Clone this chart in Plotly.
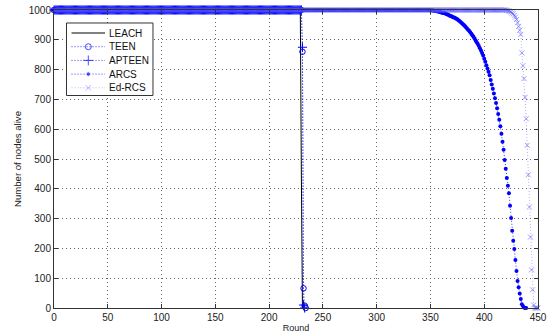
import plotly.graph_objects as go

# ---- data ----
series_names = ["LEACH", "TEEN", "APTEEN", "ARCS", "Ed-RCS"]

leach_rounds = [0, 229, 230, 231]
leach_alive = [1000, 1000, 443, 0]

teen_rounds = list(range(0, 235))
teen_alive = [1000] * 231 + [860, 66, 8, 0]

apteen_rounds = list(range(0, 234))
apteen_alive = [1000] * 231 + [875, 10, 0]

arcs_rounds = list(range(0, 441))
arcs_alive = [1000] * 350 + [
    999, 999, 998, 998, 997, 997, 996, 995, 994, 993,          # 351-360
    992, 991, 990, 989, 988, 986, 985, 983, 981, 980,          # 361-370
    978, 976, 975, 973, 971, 969, 966, 963, 960, 956,          # 371-380
    953, 950, 946, 942, 938, 934, 930, 925, 920, 915,          # 381-390
    910, 904, 898, 892, 886, 879, 872, 864, 856, 847,          # 391-400
    836, 826, 815, 804, 793, 781, 765, 750, 736, 720,          # 401-410
    704, 688, 670, 651, 632, 610, 585, 558, 531, 497,          # 411-420
    467, 436, 410, 385, 343, 302, 259, 226, 198, 161,          # 421-430
    124, 91, 70, 49, 30, 13, 7, 2, 0, 0,                       # 431-440
]

edrcs_rounds = list(range(0, 451))
edrcs_alive = [1000] * 421 + [
    999, 998, 997, 995, 993, 990, 987, 982, 976,               # 421-429
    968, 957, 945, 932, 918, 856, 813, 770, 707, 635,          # 430-439
    546, 447, 339, 238, 128, 61, 10, 0, 0, 0, 0,               # 440-450
]

x_ticks = [0, 50, 100, 150, 200, 250, 300, 350, 400, 450]
y_ticks = [0, 100, 200, 300, 400, 500, 600, 700, 800, 900, 1000]

FONT = "Liberation Sans, Arial, sans-serif"
BLUE = "#0000ff"
LIGHT = "rgba(90,90,255,0.6)"
DOT = "1px,2px"

styles = {
    "LEACH": dict(line=dict(color="black", width=1), marker=None, mode="lines"),
    "TEEN": dict(line=dict(color=BLUE, width=0.8, dash=DOT),
                 marker=dict(symbol="circle-open", size=5.5, color=BLUE, line=dict(width=1, color=BLUE)),
                 mode="lines+markers"),
    "APTEEN": dict(line=dict(color=BLUE, width=0.8, dash=DOT),
                   marker=dict(symbol="cross-thin", size=6.5, color=BLUE, line=dict(width=1, color=BLUE)),
                   mode="lines+markers"),
    "ARCS": dict(line=dict(color=BLUE, width=0.8, dash=DOT),
                 marker=dict(symbol="circle", size=4, color=BLUE),
                 mode="lines+markers"),
    "Ed-RCS": dict(line=dict(color=LIGHT, width=0.8, dash=DOT),
                   marker=dict(symbol="x-thin", size=5, color=LIGHT, line=dict(width=1, color=LIGHT)),
                   mode="lines+markers"),
}

data = {
    "LEACH": (leach_rounds, leach_alive),
    "TEEN": (teen_rounds, teen_alive),
    "APTEEN": (apteen_rounds, apteen_alive),
    "ARCS": (arcs_rounds, arcs_alive),
    "Ed-RCS": (edrcs_rounds, edrcs_alive),
}

fig = go.Figure()
for name in series_names:
    xs, ys = data[name]
    st = styles[name]
    kw = dict(x=xs, y=ys, name=name, mode=st["mode"], line=st["line"],
              cliponaxis=False, showlegend=False)
    if st["marker"] is not None:
        kw["marker"] = st["marker"]
    fig.add_trace(go.Scatter(**kw))

# ---- hand-built compact legend (like the MATLAB one) in an overlay axis ----
leg_x0, leg_x1 = 0.0258, 0.2045
leg_y0, leg_y1 = 0.7131, 0.9564
row_y = [0.9228, 0.8768, 0.8309, 0.7849, 0.7389]
samp_x = [0.0362, 0.0709, 0.1054]
text_x = 0.1105

fig.add_trace(go.Scatter(x=[leg_x0, leg_x1, leg_x1, leg_x0, leg_x0],
                         y=[leg_y0, leg_y0, leg_y1, leg_y1, leg_y0],
                         mode="lines", fill="toself", fillcolor="white",
                         line=dict(color="#333", width=1),
                         xaxis="x2", yaxis="y2", showlegend=False, hoverinfo="skip"))

for name, yc in zip(series_names, row_y):
    st = styles[name]
    kw = dict(x=samp_x, y=[yc] * 3, mode=st["mode"], line=st["line"],
              xaxis="x2", yaxis="y2", showlegend=False, hoverinfo="skip", cliponaxis=False)
    if st["marker"] is not None:
        m = dict(st["marker"])
        m["size"] = [0, m["size"] + 0.5, 0]
        kw["marker"] = m
    fig.add_trace(go.Scatter(**kw))
    fig.add_annotation(x=text_x, y=yc, xref="x2", yref="y2", text=name, showarrow=False,
                       xanchor="left", yanchor="middle",
                       font=dict(family=FONT, size=10, color="#111"))

axis_common = dict(showline=True, linecolor="#333", linewidth=1, mirror="ticks",
                   ticks="inside", ticklen=4, tickcolor="#333",
                   showgrid=True, gridcolor="#666", griddash="1px,3px", gridwidth=1,
                   zeroline=False, automargin=False,
                   tickfont=dict(family=FONT, size=10, color="#222"))

fig.update_xaxes(range=[0, 450], tickvals=x_ticks,
                 title=dict(text="Round", font=dict(family=FONT, size=9, color="#222"), standoff=2),
                 **axis_common)
fig.update_yaxes(range=[0, 1000], tickvals=y_ticks,
                 title=dict(text="Number of nodes alive", font=dict(family=FONT, size=9.6, color="#222"),
                            standoff=5),
                 **axis_common)

fig.update_layout(
    width=553, height=336,
    margin=dict(l=54, r=15, t=10, b=28),
    plot_bgcolor="white", paper_bgcolor="white",
    font=dict(family=FONT, size=10, color="#222"),
    showlegend=False,
    xaxis2=dict(overlaying="x", range=[0, 1], visible=False, fixedrange=True),
    yaxis2=dict(overlaying="y", range=[0, 1], visible=False, fixedrange=True),
)

fig.write_html("out.html", config={"displayModeBar": False},
               post_script="document.body.style.margin='0';document.body.style.overflow='hidden';")
